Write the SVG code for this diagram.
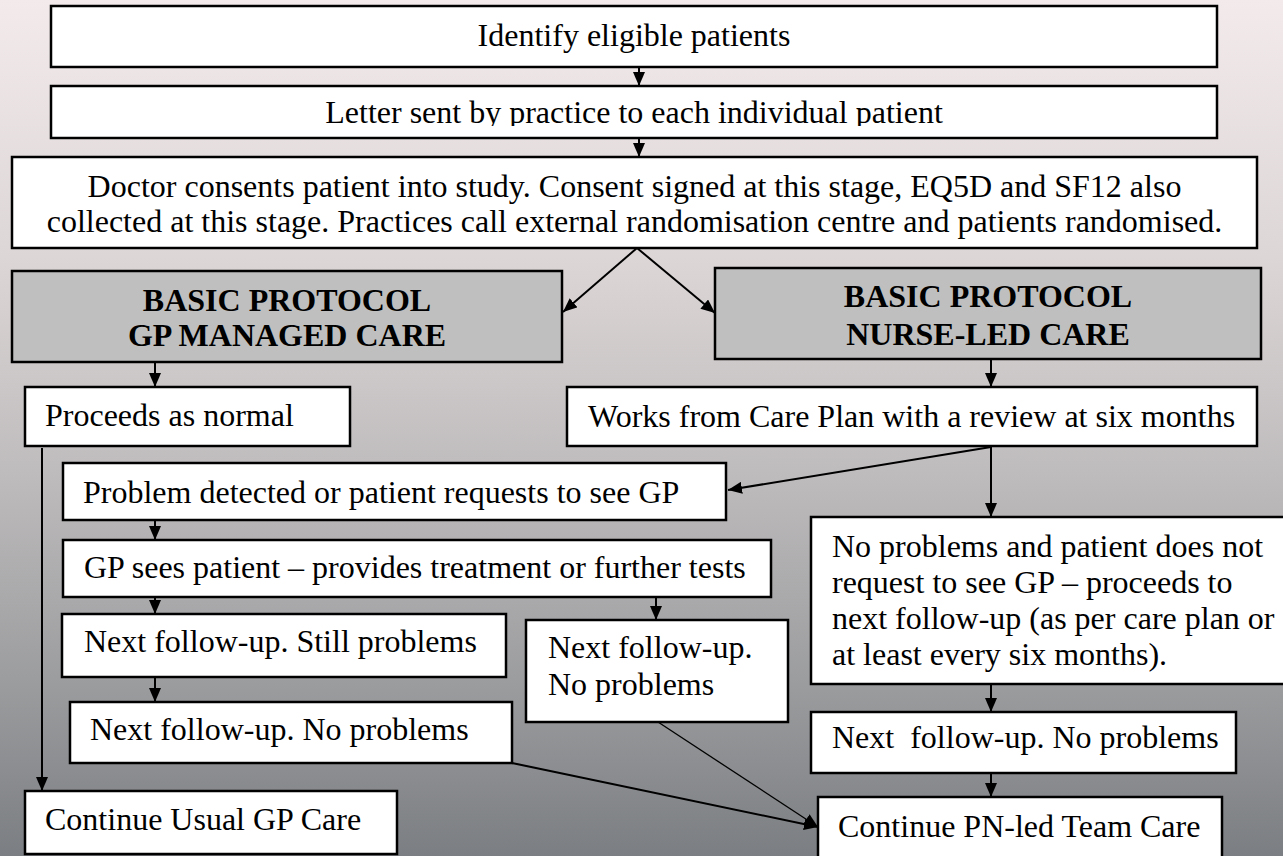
<svg xmlns="http://www.w3.org/2000/svg" width="1283" height="856" viewBox="0 0 1283 856">
<defs>
<linearGradient id="bg" x1="0" y1="0" x2="0" y2="1">
<stop offset="0" stop-color="#f3ebeb"/>
<stop offset="0.3" stop-color="#ddd6d6"/>
<stop offset="0.55" stop-color="#bfbcbd"/>
<stop offset="0.8" stop-color="#9b9c9e"/>
<stop offset="1" stop-color="#7b7e82"/>
</linearGradient>
<marker id="ah" viewBox="0 0 14 12" refX="14" refY="6" markerWidth="14" markerHeight="12" markerUnits="userSpaceOnUse" orient="auto">
<path d="M0,0 L14,6 L0,12 z" fill="#000"/>
</marker>
<clipPath id="c2"><rect x="51" y="86" width="1166" height="40"/></clipPath>
<clipPath id="c3"><rect x="12" y="157" width="1245" height="84"/></clipPath>
</defs>
<style>
.box{fill:#fff;stroke:#000;stroke-width:2.5}
.gray{fill:#bfbfbf;stroke:#000;stroke-width:2.5}
text{font-family:"Liberation Serif","Times New Roman",serif;font-size:32px;fill:#000}
.c{text-anchor:middle}
.b{font-weight:bold}
.ln{stroke:#000;stroke-width:2;fill:none;marker-end:url(#ah)}
.thin{stroke-width:1.3}
</style>
<rect x="0" y="0" width="1283" height="856" fill="url(#bg)"/>

<g id="n1"><rect class="box" x="51" y="6" width="1166" height="61"/><text class="c" x="634" y="46">Identify eligible patients</text></g>
<g id="n2"><rect class="box" x="51" y="86" width="1166" height="52"/><text class="c" x="634" y="123" clip-path="url(#c2)">Letter sent by practice to each individual patient</text></g>
<g id="n3"><rect class="box" x="12" y="157" width="1245" height="91"/><text class="c" x="634.5" y="197">Doctor consents patient into study. Consent signed at this stage, EQ5D and SF12 also</text><text class="c" x="634.5" y="232" clip-path="url(#c3)">collected at this stage. Practices call external randomisation centre and patients randomised.</text></g>
<g id="gp"><rect class="gray" x="12" y="271" width="550" height="91"/><text class="c b" x="287" y="311">BASIC PROTOCOL</text><text class="c b" x="287" y="346">GP MANAGED CARE</text></g>
<g id="nurse"><rect class="gray" x="715" y="268" width="546" height="91"/><text class="c b" x="988" y="307">BASIC PROTOCOL</text><text class="c b" x="988" y="345">NURSE-LED CARE</text></g>
<g id="proceeds"><rect class="box" x="25" y="387" width="325" height="59"/><text x="45" y="426">Proceeds as normal</text></g>
<g id="works"><rect class="box" x="567" y="387" width="690" height="59"/><text x="588" y="427">Works from Care Plan with a review at six months</text></g>
<g id="problem"><rect class="box" x="63" y="463" width="663" height="57"/><text x="83" y="503">Problem detected or patient requests to see GP</text></g>
<g id="gpsees"><rect class="box" x="63" y="540" width="708" height="57"/><text x="84" y="578">GP sees patient – provides treatment or further tests</text></g>
<g id="still"><rect class="box" x="62" y="614" width="444" height="63"/><text x="84" y="652">Next follow-up. Still problems</text></g>
<g id="nextL"><rect class="box" x="70" y="702" width="442" height="61"/><text x="90" y="740">Next follow-up. No problems</text></g>
<g id="nextM"><rect class="box" x="526" y="620" width="262" height="102"/><text x="548" y="658">Next follow-up.</text><text x="548" y="695">No problems</text></g>
<g id="noprob"><rect class="box" x="811" y="517" width="480" height="167"/><text x="832" y="557">No problems and patient does not</text><text x="832" y="593">request to see GP – proceeds to</text><text x="832" y="629">next follow-up (as per care plan or</text><text x="832" y="665">at least every six months).</text></g>
<g id="nextR"><rect class="box" x="811" y="712" width="425" height="61"/><text x="832" y="748" xml:space="preserve">Next  follow-up. No problems</text></g>
<g id="contGP"><rect class="box" x="25" y="791" width="372" height="63"/><text x="45" y="830">Continue Usual GP Care</text></g>
<g id="contPN"><rect class="box" x="818" y="797" width="404" height="62"/><text x="838" y="837">Continue PN-led Team Care</text></g>

<g id="connectors">
<line class="ln" x1="639" y1="67" x2="639" y2="86"/>
<line class="ln" x1="639" y1="138" x2="639" y2="157"/>
<line class="ln" x1="637" y1="248" x2="563" y2="312"/>
<line class="ln" x1="637" y1="248" x2="715" y2="313"/>
<line class="ln" x1="155" y1="362" x2="155" y2="387"/>
<line class="ln" x1="991" y1="359" x2="991" y2="387"/>
<line class="ln" x1="42" y1="448" x2="42" y2="791"/>
<line class="ln" x1="991" y1="447" x2="728" y2="490"/>
<line class="ln" x1="991" y1="447" x2="991" y2="517"/>
<line class="ln" x1="155" y1="520" x2="155" y2="540"/>
<line class="ln" x1="155" y1="597" x2="155" y2="614"/>
<line class="ln" x1="656" y1="597" x2="656" y2="620"/>
<line class="ln" x1="155" y1="677" x2="155" y2="702"/>
<line class="ln" x1="512" y1="763" x2="818" y2="827"/>
<line class="ln thin" x1="658" y1="722" x2="818" y2="827"/>
<line class="ln" x1="991" y1="684" x2="991" y2="712"/>
<line class="ln" x1="991" y1="773" x2="991" y2="797"/>
</g>
</svg>
